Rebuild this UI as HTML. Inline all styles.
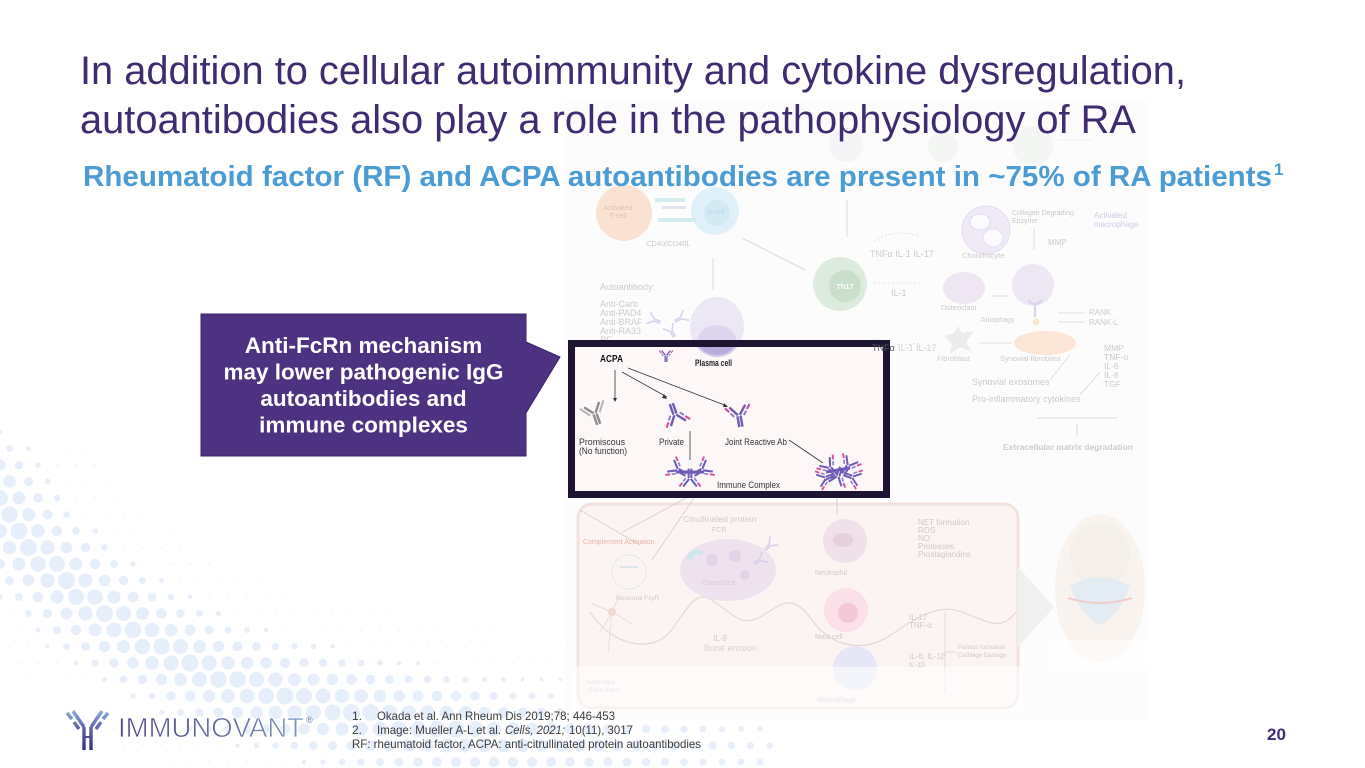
<!DOCTYPE html>
<html><head><meta charset="utf-8">
<style>
html,body{margin:0;padding:0;background:#fff;}
body{width:1365px;height:768px;overflow:hidden;}
svg{display:block;font-family:"Liberation Sans",Arial,sans-serif;}
</style></head>
<body>
<svg width="1365" height="768" viewBox="0 0 1365 768" xmlns="http://www.w3.org/2000/svg">
<defs>
  <g id="ab">
    <path d="M-1.6,0 V11 M1.6,0 V11" stroke="#6d5cb6" stroke-width="2.4" fill="none"/>
    <path d="M-1,-1 L-8,-10 M1,-1 L8,-10" stroke="#6d5cb6" stroke-width="2.4" fill="none"/>
    <path d="M-5,0 L-8,-4 M5,0 L8,-4" stroke="#8f7fd0" stroke-width="2" fill="none"/>
    <path d="M-9,-5.5 L-12.5,-10 M9,-5.5 L12.5,-10" stroke="#d4509f" stroke-width="2.2" fill="none"/>
  </g>
  <g id="abg">
    <path d="M-1.6,0 V11 M1.6,0 V11" stroke="#8d8d8d" stroke-width="2.4" fill="none"/>
    <path d="M-1,-1 L-8,-10 M1,-1 L8,-10" stroke="#8d8d8d" stroke-width="2.4" fill="none"/>
    <path d="M-5,0 L-12.5,-10 M5,0 L12.5,-10" stroke="#b5b5b5" stroke-width="2" fill="none"/>
  </g>
  <g id="abf">
    <path d="M-1,0 V7 M1,0 V7 M-1,0 L-6,-6 M1,0 L6,-6" stroke="#d9cfe9" stroke-width="1.6" fill="none"/>
  </g>
  <clipPath id="boxclip"><rect x="575" y="347" width="308" height="144"/></clipPath>
  <linearGradient id="lg" x1="118" y1="0" x2="305" y2="0" gradientUnits="userSpaceOnUse">
    <stop offset="0" stop-color="#4d4488"/><stop offset="0.55" stop-color="#62679f"/><stop offset="1" stop-color="#8097c6"/>
  </linearGradient>
  <linearGradient id="ig" x1="0" y1="708" x2="0" y2="750" gradientUnits="userSpaceOnUse">
    <stop offset="0" stop-color="#8fb7e2"/><stop offset="0.5" stop-color="#5d5fa6"/><stop offset="1" stop-color="#35307e"/>
  </linearGradient>
</defs>

<!-- background dots -->
<g id="dots"></g>

<!-- diagram image area -->
<rect x="565" y="100" width="582" height="620" fill="#fcfcfc"/>
<g font-size="8" fill="#cacaca">
  <circle cx="846" cy="145" r="17" fill="#f5f5f7"/>
  <circle cx="943" cy="147" r="15" fill="#f4f6f4"/>
  <circle cx="1033" cy="146" r="20" fill="#f4f6f4"/>
  <line x1="1058" y1="140" x2="1092" y2="140" stroke="#f0f0f0"/>
  <circle cx="624" cy="213" r="28" fill="#f9e2d2"/>
  <circle cx="715" cy="211" r="24" fill="#e0f0f8"/>
  <circle cx="717" cy="213" r="13" fill="#d3e9f3"/>
  <rect x="655" y="198" width="30" height="4" fill="#d3ecec"/>
  <rect x="662" y="206" width="24" height="3" fill="#e3e3f0"/>
  <rect x="658" y="218" width="38" height="4" fill="#d3ecec"/>
  <text x="618" y="210" font-size="7" fill="#e2c2ad" text-anchor="middle">Activated</text>
  <text x="618" y="218" font-size="7" fill="#e2c2ad" text-anchor="middle">T-cell</text>
  <text x="716" y="214" font-size="7" fill="#b9d9e6" text-anchor="middle">B-cell</text>
  <text x="646" y="246" font-size="7.5">CD40/CD40L</text>
  <line x1="713" y1="258" x2="713" y2="290" stroke="#dadada"/>
  <line x1="805" y1="270" x2="742" y2="238" stroke="#dadada"/>
  <line x1="847" y1="200" x2="847" y2="237" stroke="#dadada"/>
  <text x="600" y="290" font-size="9">Autoantibody:</text>
  <text x="600" y="307" font-size="9">Anti-Carb</text>
  <text x="600" y="316" font-size="9">Anti-PAD4</text>
  <text x="600" y="325" font-size="9">Anti-BRAF</text>
  <text x="600" y="334" font-size="9">Anti-RA33</text>
  <text x="600" y="343" font-size="9">RF</text>
  <use href="#abf" transform="translate(654,320) rotate(-70)"/>
  <use href="#abf" transform="translate(681,318) rotate(60)"/>
  <use href="#abf" transform="translate(671,331) rotate(-30)"/>
  <ellipse cx="717" cy="327" rx="27" ry="30" fill="#ece7f4"/>
  <ellipse cx="717" cy="340" rx="19" ry="15" fill="#ddd5ee"/>
  <circle cx="840" cy="284" r="27" fill="#dcebdd"/>
  <circle cx="845" cy="286" r="16" fill="#c9decb"/>
  <text x="845" y="289" font-size="7.5" fill="#ffffff" text-anchor="middle" font-weight="bold">Th17</text>
  <path d="M874,241 Q895,228 918,236" stroke="#d6e6dc" fill="none" stroke-dasharray="2 2"/>
  <text x="870" y="257" font-size="9">TNFα  IL-1  IL-17</text>
  <path d="M874,283 L924,283" stroke="#dcdcdc" fill="none" stroke-dasharray="1.5 3"/>
  <text x="891" y="296" font-size="9">IL-1</text>
  <path d="M874,338 Q895,348 920,343" stroke="#d6e6dc" fill="none" stroke-dasharray="2 2"/>
  <circle cx="986" cy="230" r="24" fill="#efeaf6" stroke="#e2daef"/>
  <ellipse cx="980" cy="222" rx="10" ry="8" fill="#fbfafd" stroke="#e3dbef"/>
  <ellipse cx="993" cy="238" rx="10" ry="9" fill="#fbfafd" stroke="#e3dbef"/>
  <text x="962" y="258" font-size="7.5">Chondrocyte</text>
  <text x="1012" y="215" font-size="7">Collagen Degrading</text>
  <text x="1012" y="223" font-size="7">Enzyme</text>
  <text x="1094" y="218" font-size="8" fill="#c8cde2">Activated</text>
  <text x="1094" y="227" font-size="8" fill="#c8cde2">macrophage</text>
  <text x="1048" y="245" font-size="8">MMP</text>
  <line x1="1034" y1="228" x2="1034" y2="250" stroke="#e0e0e0"/>
  <ellipse cx="964" cy="288" rx="21" ry="16" fill="#eee6f3"/>
  <text x="941" y="310" font-size="7.5">Osteoclast</text>
  <ellipse cx="1033" cy="285" rx="21" ry="21" fill="#ede6f3"/>
  <path d="M1035,305 v12 M1028,300 q7,8 14,0" stroke="#dcd3ee" stroke-width="2.5" fill="none"/>
  <circle cx="1036" cy="322" r="3.5" fill="#f8e7c9"/>
  <text x="981" y="322" font-size="7">Autophagy</text>
  <text x="1089" y="315" font-size="8">RANK</text>
  <text x="1089" y="325" font-size="8">RANK-L</text>
  <line x1="1058" y1="313" x2="1085" y2="313" stroke="#dedede"/>
  <line x1="1058" y1="322" x2="1085" y2="322" stroke="#dedede"/>
  <line x1="992" y1="296" x2="1008" y2="296" stroke="#dedede"/>
  <polygon points="944,336 954,333 958,326 962,333 974,331 966,342 972,352 960,347 950,354 952,344" fill="#ebebec"/>
  <text x="937" y="361" font-size="7.5">Fibroblast</text>
  <ellipse cx="1045" cy="343" rx="31" ry="12" fill="#fbe5d6"/>
  <line x1="980" y1="343" x2="1012" y2="343" stroke="#dedede"/>
  <text x="1000" y="361" font-size="7.5">Synovial fibroblast</text>
  <text x="1104" y="351" font-size="8.5">MMP</text>
  <text x="1104" y="360" font-size="8.5">TNF-α</text>
  <text x="1104" y="369" font-size="8.5">IL-6</text>
  <text x="1104" y="378" font-size="8.5">IL-8</text>
  <text x="1104" y="387" font-size="8.5">TGF</text>
  <text x="972" y="385" font-size="9">Synovial exosomes</text>
  <text x="972" y="402" font-size="9">Pro-inflammatory cytokines</text>
  <line x1="1050" y1="380" x2="1070" y2="355" stroke="#dedede"/>
  <line x1="1080" y1="395" x2="1100" y2="372" stroke="#dedede"/>
  <line x1="1037" y1="418" x2="1117" y2="418" stroke="#d8d8d8"/>
  <line x1="1077" y1="424" x2="1077" y2="436" stroke="#d8d8d8"/>
  <text x="1003" y="450" font-size="8.5" font-weight="bold" fill="#cccccc">Extracellular matrix degradation</text>

  <rect x="578" y="504" width="440" height="204" rx="14" fill="#fcf4f2" stroke="#f1e2de" stroke-width="3"/>
  <path d="M590,612 C610,642 640,650 660,640 S690,585 712,600 S742,628 762,616 S792,592 812,620 S862,650 882,640 S932,600 962,612 S1002,630 1016,612" stroke="#e6d9d5" stroke-width="1.3" fill="none"/>
  <line x1="686" y1="498" x2="623" y2="532" stroke="#e0d0cd"/>
  <line x1="694" y1="498" x2="652" y2="560" stroke="#e0d0cd"/>
  <line x1="580" y1="510" x2="640" y2="545" stroke="#e0d0cd"/>
  <line x1="837" y1="498" x2="837" y2="514" stroke="#cfcfcf"/>
  <text x="583" y="544" font-size="7" fill="#e7b4a6">Complement Activation</text>
  <text x="683" y="522" font-size="8.5">Citrullinated protein</text>
  <text x="712" y="532" font-size="7">FCR</text>
  <ellipse cx="728" cy="570" rx="48" ry="31" fill="#eee2ee"/>
  <circle cx="712" cy="560" r="6" fill="#e4d3e6"/><circle cx="735" cy="556" r="6" fill="#e4d3e6"/><circle cx="745" cy="575" r="5" fill="#e4d3e6"/>
  <path d="M688,560 q6,-12 14,-6" stroke="#cfe6ec" stroke-width="5" fill="none"/>
  <text x="702" y="585" font-size="7" fill="#dcc8dc">Osteoclast</text>
  <use href="#abf" transform="translate(760,560) rotate(60)"/>
  <use href="#abf" transform="translate(770,545) rotate(45)"/>
  <circle cx="629" cy="572" r="17" fill="none" stroke="#e0e9ec"/>
  <rect x="620" y="566" width="18" height="2" fill="#dbe6ec"/>
  <text x="616" y="600" font-size="6.5">Neuronal FcγR</text>
  <path d="M612,612 l-20,-8 M612,612 l-12,20 M612,612 l20,12 M612,612 l8,-18 M612,612 l-4,40" stroke="#eddcd8" fill="none"/>
  <circle cx="612" cy="612" r="4" fill="#efd9d4"/>
  <circle cx="845" cy="541" r="22" fill="#efe0ea"/>
  <ellipse cx="843" cy="540" rx="10" ry="7" fill="#e6d0de"/>
  <text x="815" y="575" font-size="7">Neutrophil</text>
  <text x="918" y="525" font-size="8">NET formation</text>
  <text x="918" y="533" font-size="8">ROS</text>
  <text x="918" y="541" font-size="8">NO</text>
  <text x="918" y="549" font-size="8">Proteases</text>
  <text x="918" y="557" font-size="8">Prostaglandins</text>
  <circle cx="846" cy="610" r="22" fill="#fbe0ea"/>
  <circle cx="848" cy="613" r="10" fill="#f2c8d7"/>
  <text x="815" y="639" font-size="7">Mast cell</text>
  <text x="909" y="620" font-size="8">IL-17</text>
  <text x="909" y="628" font-size="8">TNF-α</text>
  <text x="713" y="641" font-size="8">IL-8</text>
  <text x="704" y="651" font-size="9" fill="#d7cfcf">Bone erosion</text>
  <circle cx="855" cy="668" r="22" fill="#e7e6f6"/>
  <text x="909" y="659" font-size="8">IL-6, IL-1β</text>
  <text x="909" y="667" font-size="7">IL-1β</text>
  <line x1="945" y1="612" x2="945" y2="693" stroke="#dcdcdc"/>
  <line x1="945" y1="652" x2="956" y2="652" stroke="#dcdcdc"/>
  <text x="958" y="649" font-size="6">Pannus formation</text>
  <text x="958" y="657" font-size="6">Cartilage Damage</text>
  <text x="587" y="684" font-size="6.5">Arthralgia</text>
  <text x="587" y="692" font-size="6.5">(Joint pain)</text>
  <rect x="572" y="667" width="450" height="44" fill="#ffffff" opacity="0.55"/>
  <text x="817" y="702" font-size="7" fill="#e6e6e6">Macrophage</text>
  <polygon points="1018,567 1054,607 1018,647" fill="#f0f0f0"/>
  <ellipse cx="1100" cy="588" rx="45" ry="74" fill="#f8f3ee"/>
  <ellipse cx="1100" cy="555" rx="30" ry="32" fill="#f4efe9"/>
  <path d="M1070,585 q30,-15 60,0 q-10,30 -30,40 q-20,-10 -30,-40z" fill="#e3ecf3"/>
  <path d="M1068,598 q32,10 64,0" stroke="#efcccc" stroke-width="2" fill="none"/>
  <rect x="1050" y="640" width="100" height="30" fill="#ffffff" opacity="0.5"/>
</g>

<!-- highlighted ACPA box -->
<rect x="571.5" y="343.5" width="315" height="151" fill="#fdf8f7" stroke="#1c1431" stroke-width="7"/>
<g clip-path="url(#boxclip)">
  <ellipse cx="717" cy="327" rx="27" ry="30" fill="#d3c9e8"/>
  <ellipse cx="717" cy="340" rx="19" ry="15" fill="#b9abdc"/>
</g>
<use href="#ab" transform="translate(666,356) scale(0.55)"/>
<text x="872" y="351" font-size="9" fill="#555">TNFα</text>
<text x="898" y="351" font-size="9" fill="#cfcfcf">IL-1  IL-17</text>
<g>
  <text x="600" y="362" font-size="10" font-weight="bold" fill="#111" textLength="23" lengthAdjust="spacingAndGlyphs">ACPA</text>
  <text x="695" y="366" font-size="9" font-weight="bold" fill="#222" textLength="37" lengthAdjust="spacingAndGlyphs">Plasma cell</text>
  <g stroke="#333" stroke-width="0.8" fill="none">
    <line x1="615" y1="370" x2="615" y2="400"/>
    <line x1="622" y1="372" x2="667" y2="397"/>
    <line x1="628" y1="368" x2="727" y2="406"/>
    <line x1="690" y1="431" x2="690" y2="460"/>
    <line x1="789" y1="440" x2="823" y2="463"/>
  </g>
  <g fill="#333">
    <polygon points="613,398 617,398 615,402"/>
    <polygon points="664,394 667,399 662,398"/>
    <polygon points="724,403 728,407 723,407"/>
  </g>
  <use href="#abg" transform="translate(595,414) rotate(-20)"/>
  <use href="#ab" transform="translate(675,414) rotate(160)"/>
  <use href="#ab" transform="translate(739,416) rotate(-10)"/>
  <text x="579" y="445" font-size="9.5" fill="#333" textLength="46" lengthAdjust="spacingAndGlyphs">Promiscous</text>
  <text x="579" y="454" font-size="9.5" fill="#333" textLength="48" lengthAdjust="spacingAndGlyphs">(No function)</text>
  <text x="659" y="445" font-size="9.5" fill="#333" textLength="25" lengthAdjust="spacingAndGlyphs">Private</text>
  <text x="725" y="445" font-size="9.5" fill="#333" textLength="62" lengthAdjust="spacingAndGlyphs">Joint Reactive Ab</text>
  <path d="M676,472 H704" stroke="#6d5cb6" stroke-width="3"/>
  <use href="#ab" transform="translate(678,470) rotate(-60) scale(0.85)"/>
  <use href="#ab" transform="translate(702,470) rotate(60) scale(0.85)"/>
  <use href="#ab" transform="translate(690,478) rotate(180) scale(0.85)"/>
  <text x="717" y="488" font-size="9.5" fill="#333" textLength="63" lengthAdjust="spacingAndGlyphs">Immune Complex</text>
  <path d="M826,472 L850,468" stroke="#6d5cb6" stroke-width="3"/>
  <use href="#ab" transform="translate(830,468) rotate(-40) scale(0.85)"/>
  <use href="#ab" transform="translate(848,466) rotate(30) scale(0.85)"/>
  <use href="#ab" transform="translate(838,476) rotate(200) scale(0.85)"/>
  <use href="#ab" transform="translate(826,478) rotate(-110) scale(0.8)"/>
  <use href="#ab" transform="translate(852,477) rotate(110) scale(0.8)"/>
</g>

<!-- Title -->
<text x="80" y="84" font-size="39.5" fill="#3f2b72" textLength="1106" lengthAdjust="spacingAndGlyphs">In addition to cellular autoimmunity and cytokine dysregulation,</text>
<text x="80" y="133" font-size="39.5" fill="#3f2b72" textLength="1056" lengthAdjust="spacingAndGlyphs">autoantibodies also play a role in the pathophysiology of RA</text>
<text x="83" y="186" font-size="29" font-weight="bold" fill="#4b9bd5" textLength="1189" lengthAdjust="spacingAndGlyphs">Rheumatoid factor (RF) and ACPA autoantibodies are present in ~75% of RA patients</text>
<text x="1274" y="175" font-size="17" font-weight="bold" fill="#4b9bd5">1</text>

<!-- Callout -->
<path d="M201,314 H526 V342 L560,357 L526,413 V456 H201 Z" fill="#4e3282" stroke="#3a2465" stroke-width="1"/>
<g font-size="22.5" font-weight="bold" fill="#ffffff" text-anchor="middle">
  <text x="363.5" y="353">Anti-FcRn mechanism</text>
  <text x="363.5" y="379.5">may lower pathogenic IgG</text>
  <text x="363.5" y="406">autoantibodies and</text>
  <text x="363.5" y="432.5">immune complexes</text>
</g>

<!-- Logo -->
<g stroke="url(#ig)" stroke-width="3.4" fill="none" stroke-linecap="butt">
  <path d="M84,727 L73,711"/>
  <path d="M79,729 L74,722 M72,719 L67,713"/>
  <path d="M91,727 L102,711"/>
  <path d="M96,729 L101,722 M103,719 L108,713"/>
  <path d="M84,727 V750 M91,727 V750"/>
  <path d="M84,737 H91" stroke-width="2"/>
</g>
<text x="118" y="737" font-size="28" fill="url(#lg)" stroke="#ffffff" stroke-width="0.7" textLength="186" lengthAdjust="spacingAndGlyphs">IMMUNOVANT</text>
<text x="306" y="723" font-size="9" fill="#6a7fb5">®</text>

<!-- Footnotes -->
<g font-family="Liberation Sans Narrow, Liberation Sans, Arial, sans-serif" font-size="12" fill="#3c3c3c">
  <text x="352" y="720">1.</text>
  <text x="377" y="720" textLength="238" lengthAdjust="spacingAndGlyphs">Okada et al. Ann Rheum Dis 2019;78; 446-453</text>
  <text x="352" y="734">2.</text>
  <text x="377" y="734" textLength="124" lengthAdjust="spacingAndGlyphs">Image: Mueller A-L et al.</text>
  <text x="505" y="734" font-style="italic" textLength="60" lengthAdjust="spacingAndGlyphs">Cells, 2021;</text>
  <text x="569" y="734" textLength="64" lengthAdjust="spacingAndGlyphs">10(11), 3017</text>
  <text x="352" y="748" textLength="349" lengthAdjust="spacingAndGlyphs">RF: rheumatoid factor, ACPA: anti-citrullinated protein autoantibodies</text>
</g>

<text x="1267" y="740" font-size="17" font-weight="bold" fill="#3f2b72">20</text>
</svg>
<script>
(function(){
var g=document.getElementById('dots');
var P=[[-10,492],[30,548],[90,602],[150,643],[215,676],[300,701],[400,722],[520,738],[760,752]];
function sd(x,y){var m=1e9;for(var i=0;i<P.length-1;i++){var ax=P[i][0],ay=P[i][1],bx=P[i+1][0],by=P[i+1][1];var dx=bx-ax,dy=by-ay;var t=((x-ax)*dx+(y-ay)*dy)/(dx*dx+dy*dy);t=Math.max(0,Math.min(1,t));var ex=ax+t*dx-x,ey=ay+t*dy-y;var d=Math.sqrt(ex*ex+ey*ey);if(d<m)m=d;}return m;}
var s='';
for(var r=0;r<22;r++){var y=432+r*16.5;var off=(r%2)?9.5:0;
 for(var x=off;x<770;x+=19){var d=sd(x,y);var rad,c;
  if(d<62){rad=2+6.5*(1-d/62);c='#e5eef9';}
  else if(d<105){rad=1.2;c='#f3f7fc';}
  else continue;
  if(x>450){rad*=Math.max(0.45,1-(x-450)/520);}
  s+='<circle cx="'+x.toFixed(1)+'" cy="'+y.toFixed(1)+'" r="'+rad.toFixed(1)+'" fill="'+c+'"/>';}}
g.innerHTML=s;
})();
</script>
</body></html>
